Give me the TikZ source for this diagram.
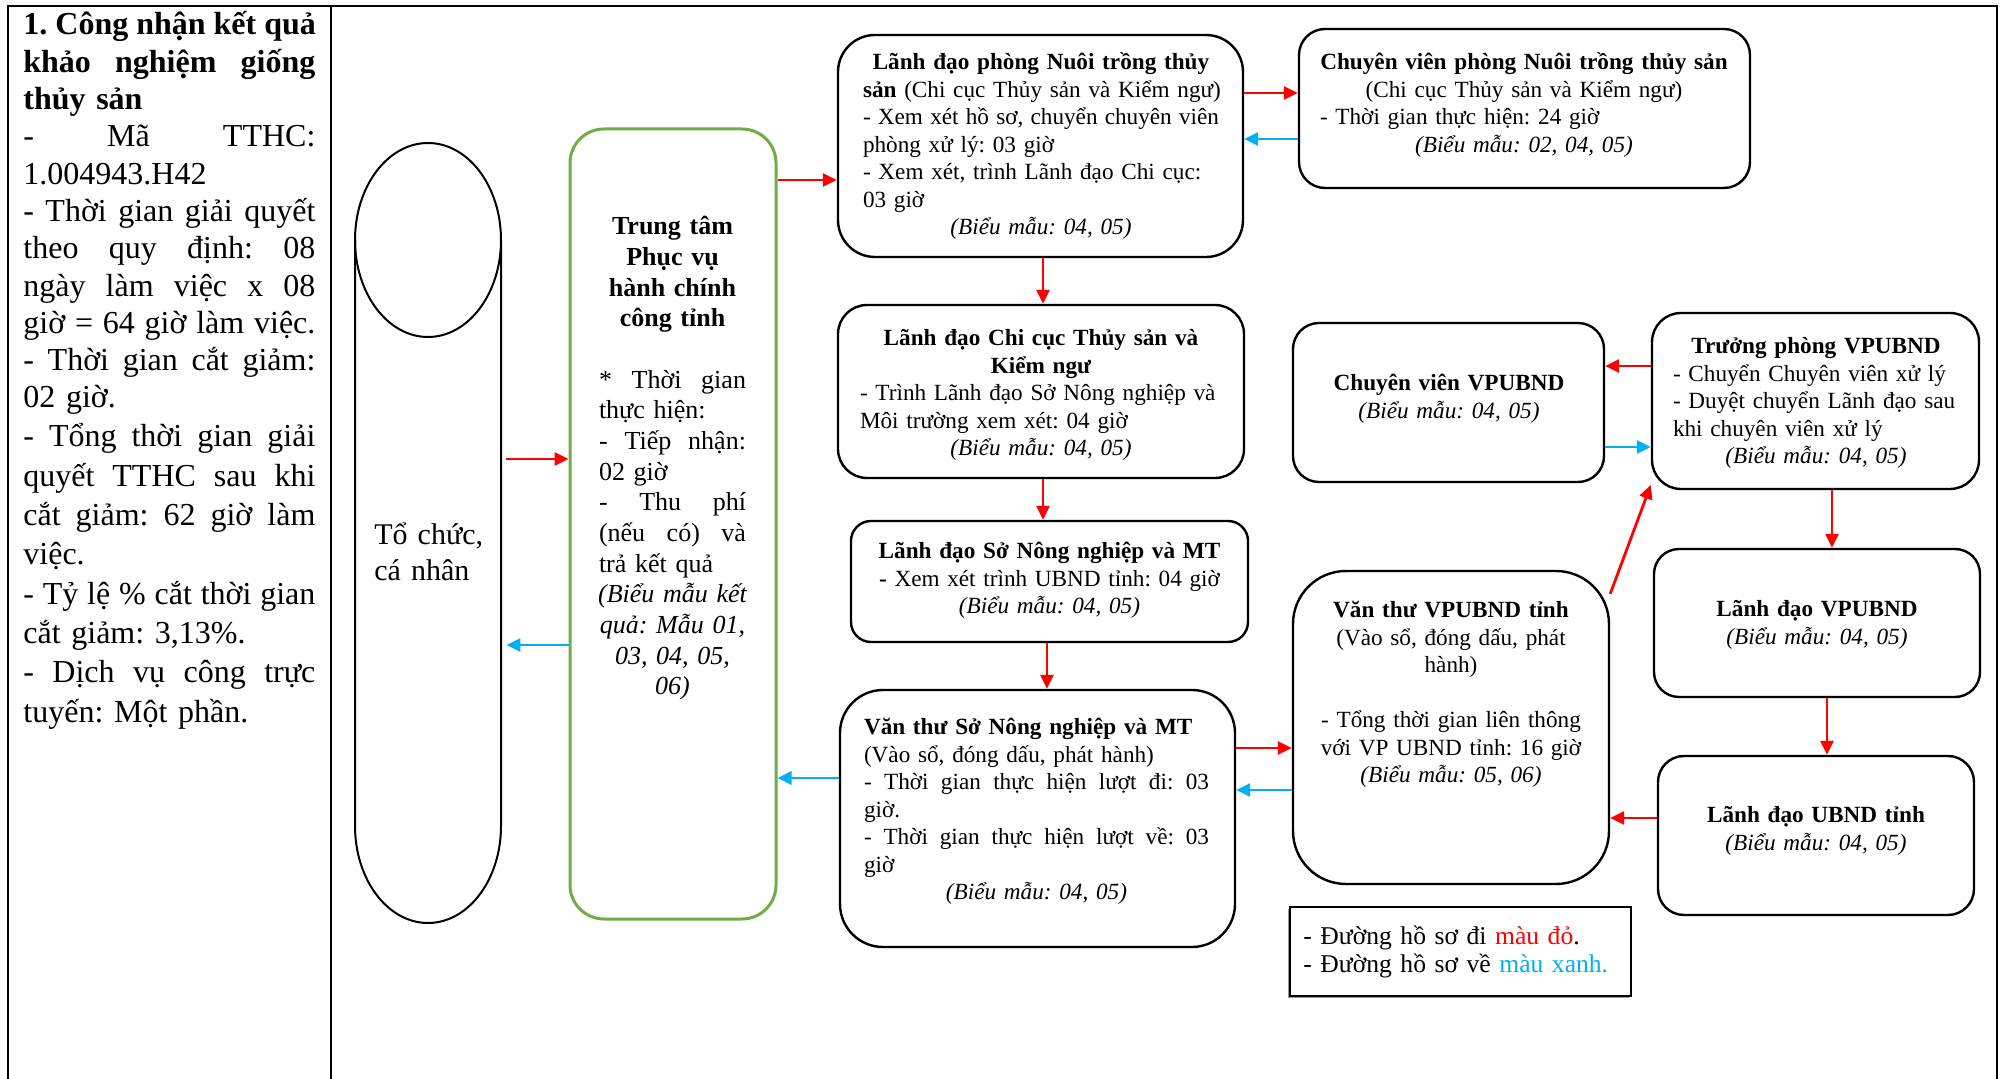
\documentclass[tikz,border=0pt]{standalone}
\usepackage{fontspec}
\setmainfont{Liberation Serif}
\usetikzlibrary{arrows.meta,shadows}
\definecolor{flowred}{RGB}{255,0,0}
\definecolor{flowblue}{RGB}{0,176,240}
\definecolor{frameGreen}{RGB}{112,173,71}
% one full-width line: centred, flush left, or stretched to both margins
\newcommand\Lc[1]{\makebox[\linewidth][c]{#1}}
\newcommand\Ll[1]{\makebox[\linewidth][l]{#1}}
\newcommand\Ls[1]{\makebox[\linewidth][s]{\spaceskip=0.25em plus 1fil\relax #1}}
\lineskiplimit=-100pt
\frenchspacing
\begin{document}
\begin{tikzpicture}[x=0.5pt,y=-0.5pt,
  box/.style={draw, line width=1.2pt, inner sep=0pt},
  ttl/.style={inner sep=0pt, font=\fontsize{11.6}{13.75}\selectfont},
  flowgo/.style={draw=flowred, line width=1.4pt, -{Triangle[length=7pt,width=6.5pt]}},
  flowback/.style={draw=flowblue, line width=1.4pt, -{Triangle[length=7pt,width=6.5pt]}},
  rule/.style={line width=1.3pt}]
\useasboundingbox (0,0) rectangle (2004,1079);

% table frame
\draw[rule] (8,1079) -- (8,6) -- (1997,6) -- (1997,1079);
\draw[rule] (331,6) -- (331,1079);

% procedure summary
\node[ttl, anchor=base west, text width=146pt, font=\fontsize{16}{18.65}\selectfont] (info) at (23,35) {%
\Ls{\bfseries 1. Công nhận kết quả}\\
\Ls{\bfseries khảo nghiệm giống}\\
\Ll{\bfseries thủy sản}\\
\Ls{- Mã TTHC:}\\
\Ll{1.004943.H42}\\
\Ls{- Thời gian giải quyết}\\
\Ls{theo quy định: 08}\\
\Ls{ngày làm việc x 08}\\
\Ls{giờ = 64 giờ làm việc.}\\
\Ls{- Thời gian cắt giảm:}\\
\Ll{02 giờ.}};
\node[ttl, anchor=base west, text width=146pt, font=\fontsize{16}{19.65}\selectfont] (info2) at (23,447) {%
\Ls{- Tổng thời gian giải}\\
\Ls{quyết TTHC sau khi}\\
\Ls{cắt giảm: 62 giờ làm}\\
\Ll{việc.}\\
\Ls{- Tỷ lệ \% cắt thời gian}\\
\Ll{cắt giảm: 3,13\%.}\\
\Ls{- Dịch vụ công trực}\\
\Ll{tuyến: Một phần.}};

% applicant (cylinder)
\draw[line width=1pt] (355,240) -- (355,826) arc[start angle=180,end angle=360,x radius=36.5pt,y radius=48.5pt] -- (501,240);
\draw[line width=1pt] (428,240) ellipse[x radius=36.5pt,y radius=48.5pt];
\node[inner sep=0pt, minimum width=78pt, minimum height=390pt] (cyl) at (428,533) {};
\node[ttl, anchor=base west, text width=60pt, font=\fontsize{15}{18}\selectfont] (cylt) at (374,545) {\Ll{Tổ chức,}\\\Ll{cá nhân}};

% public service centre
\node[box, draw=frameGreen, line width=1.5pt, rounded corners=17pt, minimum width=103pt, minimum height=395pt] (tt) at (673,524) {};
\node[ttl, anchor=base, text width=73.5pt, font=\fontsize{13}{15.33}\selectfont] (ttt) at (672.5,235) {%
\Lc{\bfseries Trung tâm}\\
\Lc{\bfseries Phục vụ}\\
\Lc{\bfseries hành chính}\\
\Lc{\bfseries công tỉnh}\\
\Lc{}\\
\Ls{* Thời gian}\\
\Ll{thực hiện:}\\
\Ls{- Tiếp nhận:}\\
\Ll{02 giờ}\\
\Ls{- Thu phí}\\
\Ls{(nếu có) và}\\
\Ll{trả kết quả}\\
\Lc{\itshape (Biểu mẫu kết}\\
\Lc{\itshape quả: Mẫu 01,}\\
\Lc{\itshape 03, 04, 05,}\\
\Lc{\itshape 06)}};

% processing steps
\node[box, rounded corners=18.5pt, minimum width=202.5pt, minimum height=111pt] (b1) at (1040.5,146) {};
\node[ttl, anchor=base, text width=178pt] (b1t) at (1041,70) {%
\Lc{\bfseries Lãnh đạo phòng Nuôi trồng thủy}\\
\Ll{\textbf{sản} (Chi cục Thủy sản và Kiểm ngư)}\\
\Ls{- Xem xét hồ sơ, chuyển chuyên viên}\\
\Ll{phòng xử lý: 03 giờ}\\
\Ll{- Xem xét, trình Lãnh đạo Chi cục:}\\
\Ll{03 giờ}\\
\Lc{\itshape (Biểu mẫu: 04, 05)}};

\node[box, rounded corners=13pt, minimum width=225.5pt, minimum height=79.5pt] (b2) at (1524.5,108.5) {};
\node[ttl, anchor=base, text width=206pt] (b2t) at (1524,70) {%
\Lc{\bfseries Chuyên viên phòng Nuôi trồng thủy sản}\\
\Lc{(Chi cục Thủy sản và Kiểm ngư)}\\
\Ll{\hspace{1pt}- Thời gian thực hiện: 24 giờ}\\
\Lc{\itshape (Biểu mẫu: 02, 04, 05)}};

\node[box, rounded corners=14.5pt, minimum width=203pt, minimum height=86.5pt] (b3) at (1041,391.5) {};
\node[ttl, anchor=base, text width=181pt] (b3t) at (1041,346) {%
\Lc{\bfseries Lãnh đạo Chi cục Thủy sản và}\\
\Lc{\bfseries Kiểm ngư}\\
\Ll{- Trình Lãnh đạo Sở Nông nghiệp và}\\
\Ll{Môi trường xem xét: 04 giờ}\\
\Lc{\itshape (Biểu mẫu: 04, 05)}};

\node[box, rounded corners=10pt, minimum width=198.5pt, minimum height=60.5pt] (b4) at (1049.5,581.5) {};
\node[ttl, anchor=base, text width=190pt] (b4t) at (1049.5,559) {%
\Lc{\bfseries Lãnh đạo Sở Nông nghiệp và MT}\\
\Lc{\textbf{-} Xem xét trình UBND tỉnh: 04 giờ}\\
\Lc{\itshape (Biểu mẫu: 04, 05)}};

\node[box, rounded corners=21.5pt, minimum width=197.5pt, minimum height=128.5pt] (b5) at (1037.5,818.5) {};
\node[ttl, anchor=base, text width=172.5pt] (b5t) at (1036.5,735) {%
\Ll{\bfseries Văn thư Sở Nông nghiệp và MT}\\
\Ll{(Vào sổ, đóng dấu, phát hành)}\\
\Ls{- Thời gian thực hiện lượt đi: 03}\\
\Ll{giờ.}\\
\Ls{- Thời gian thực hiện lượt về: 03}\\
\Ll{giờ}\\
\Lc{\itshape (Biểu mẫu: 04, 05)}};

\node[box, rounded corners=26.5pt, minimum width=158pt, minimum height=156.5pt] (b6) at (1451,727.5) {};
\node[ttl, anchor=base, text width=150pt] (b6t) at (1451,618) {%
\Lc{\bfseries Văn thư VPUBND tỉnh}\\
\Lc{(Vào sổ, đóng dấu, phát}\\
\Lc{hành)}\\
\Lc{}\\
\Lc{- Tổng thời gian liên thông}\\
\Lc{với VP UBND tỉnh: 16 giờ}\\
\Lc{\itshape (Biểu mẫu: 05, 06)}};

\node[box, rounded corners=13pt, minimum width=155.5pt, minimum height=79.5pt] (b7) at (1448.5,402.5) {};
\node[ttl, anchor=base, text width=145pt] (b7t) at (1449,391) {%
\Lc{\bfseries Chuyên viên VPUBND}\\
\Lc{\itshape (Biểu mẫu: 04, 05)}};

\node[box, rounded corners=14.5pt, minimum width=163.5pt, minimum height=88pt] (b8) at (1815.5,401) {};
\node[ttl, anchor=base, text width=143pt] (b8t) at (1816,354) {%
\Lc{\bfseries Trưởng phòng VPUBND}\\
\Ll{- Chuyển Chuyên viên xử lý}\\
\Ll{- Duyệt chuyển Lãnh đạo sau}\\
\Ll{khi chuyên viên xử lý}\\
\Lc{\itshape (Biểu mẫu: 04, 05)}};

\node[box, rounded corners=12.5pt, minimum width=163pt, minimum height=74pt] (b9) at (1817,623) {};
\node[ttl, anchor=base, text width=150pt] (b9t) at (1817,617) {%
\Lc{\bfseries Lãnh đạo VPUBND}\\
\Lc{\itshape (Biểu mẫu: 04, 05)}};

\node[box, rounded corners=13pt, minimum width=158pt, minimum height=79.5pt] (b10) at (1816,835.5) {};
\node[ttl, anchor=base, text width=150pt] (b10t) at (1816,823) {%
\Lc{\bfseries Lãnh đạo UBND tỉnh}\\
\Lc{\itshape (Biểu mẫu: 04, 05)}};

% legend
\node[draw, line width=1pt, fill=white, inner sep=0pt, minimum width=170.5pt, minimum height=44.5pt,
  drop shadow={shadow xshift=-1pt, shadow yshift=-1pt, fill=black!50, opacity=0.8}] (leg) at (1460.5,951.5) {};
\node[ttl, anchor=base west, text width=160pt, font=\fontsize{12.8}{14}\selectfont] (legt) at (1303,944) {%
\Ll{- Đường hồ sơ đi \textcolor{flowred}{màu đỏ}.}\\
\Ll{- Đường hồ sơ về \textcolor{flowblue}{màu xanh.}}};

% outgoing flow (red)
\draw[flowgo] (cyl.east |- 0,459) -- (tt.west |- 0,459);
\draw[flowgo] (tt.east |- 0,180) -- (b1.west |- 0,180);
\draw[flowgo] (b1.east |- 0,93) -- (b2.west |- 0,93);
\draw[flowgo] (b1.south -| 1043,0) -- (b3.north -| 1043,0);
\draw[flowgo] (b3.south -| 1043,0) -- (b4.north -| 1043,0);
\draw[flowgo] (b4.south -| 1047,0) -- (b5.north -| 1047,0);
\draw[flowgo] (b5.east |- 0,748) -- (b6.west |- 0,748);
\draw[flowgo] (b6.40) -- (b8.207);
\draw[flowgo] (b8.west |- 0,366) -- (b7.east |- 0,366);
\draw[flowgo] (b8.south -| 1832,0) -- (b9.north -| 1832,0);
\draw[flowgo] (b9.south -| 1827,0) -- (b10.north -| 1827,0);
\draw[flowgo] (b10.west |- 0,818) -- (b6.east |- 0,818);

% returning flow (blue)
\draw[flowback] (b2.west |- 0,139) -- (b1.east |- 0,139);
\draw[flowback] (b7.east |- 0,447) -- (b8.west |- 0,447);
\draw[flowback] (b6.west |- 0,790) -- (b5.east |- 0,790);
\draw[flowback] (b5.west |- 0,778) -- (tt.east |- 0,778);
\draw[flowback] (tt.west |- 0,645) -- (cyl.east |- 0,645);
\end{tikzpicture}
\end{document}
